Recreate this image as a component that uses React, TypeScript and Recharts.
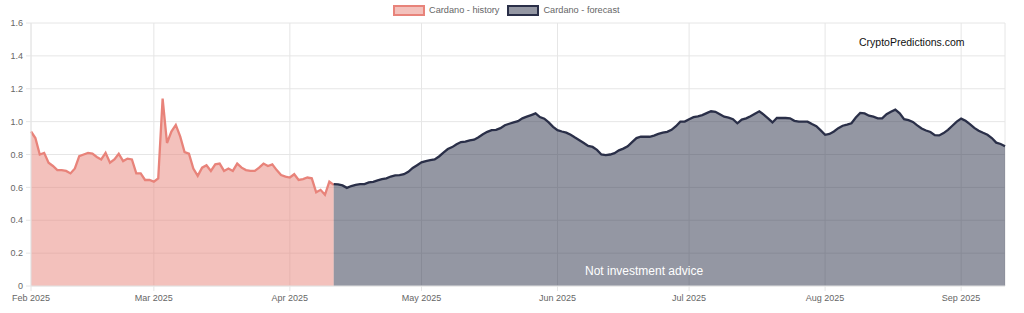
import { ComposedChart, Area, XAxis, YAxis, CartesianGrid } from 'recharts'

// days counted from 1 Feb 2025
const monthTicks = [0, 28, 59, 89, 120, 150, 181, 212]
const monthLabels = ['Feb 2025', 'Mar 2025', 'Apr 2025', 'May 2025', 'Jun 2025', 'Jul 2025', 'Aug 2025', 'Sep 2025']
const yTicks = [0, 0.2, 0.4, 0.6, 0.8, 1.0, 1.2, 1.4, 1.6]

// Cardano history, daily from 1 Feb to 11 Apr
const historyValues = [
  0.94, 0.9, 0.8, 0.81, 0.75, 0.73, 0.705, 0.705, 0.7, 0.685, 0.715, 0.79, 0.8, 0.81,
  0.805, 0.785, 0.77, 0.81, 0.75, 0.77, 0.805, 0.76, 0.775, 0.77, 0.685, 0.685, 0.645, 0.645,
  0.635, 0.655, 1.14, 0.87, 0.94, 0.98, 0.91, 0.815, 0.805, 0.715, 0.67, 0.72, 0.735, 0.7,
  0.74, 0.745, 0.7, 0.715, 0.7, 0.745, 0.72, 0.705, 0.7, 0.7, 0.72, 0.745, 0.73, 0.74,
  0.705, 0.675, 0.665,
  0.66, 0.68, 0.645, 0.65, 0.66, 0.655, 0.57, 0.585, 0.555, 0.635, 0.615,
]

// forecast, daily from 11 Apr to 11 Sep
const forecastStart = 69
const forecastValues = [
  0.62, 0.618, 0.612, 0.597, 0.608, 0.615, 0.62, 0.62, 0.63, 0.634, 0.643, 0.65, 0.655, 0.666,
  0.673, 0.675, 0.68, 0.695, 0.718, 0.735, 0.752, 0.76, 0.766, 0.77, 0.788, 0.812, 0.833, 0.845,
  0.862, 0.876, 0.878, 0.886, 0.89, 0.905, 0.923, 0.938, 0.948, 0.95, 0.96, 0.978, 0.987, 0.995,
  1.003, 1.02, 1.03, 1.04, 1.05, 1.028, 1.018, 0.995, 0.968, 0.948, 0.94, 0.933, 0.92, 0.903,
  0.887, 0.87, 0.852, 0.846, 0.828, 0.8, 0.796, 0.8, 0.808, 0.825, 0.836, 0.85, 0.875, 0.9,
  0.908, 0.908, 0.908, 0.915, 0.925, 0.933, 0.938, 0.95, 0.972, 1.0, 1.0, 1.015, 1.027, 1.032,
  1.04, 1.052, 1.063, 1.06, 1.045, 1.03, 1.024, 1.015, 0.99, 1.012, 1.02, 1.033, 1.048, 1.063,
  1.043, 1.02, 0.995, 1.022, 1.022, 1.022, 1.02, 1.005, 1.0, 1.0, 1.0, 0.985, 0.972, 0.947,
  0.92, 0.925, 0.94, 0.96, 0.975, 0.982, 0.99, 1.025, 1.053, 1.05, 1.036, 1.03, 1.02, 1.02,
  1.045, 1.06, 1.073, 1.05, 1.015, 1.009, 0.998, 0.977, 0.958, 0.946, 0.937, 0.918, 0.916, 0.93,
  0.95, 0.975, 1.0, 1.018, 1.005, 0.985, 0.962, 0.945, 0.932, 0.92, 0.9, 0.872, 0.864, 0.85,
]

const lastDay = forecastStart + forecastValues.length - 1

const rows = Array.from({ length: lastDay + 1 }, (_, day) => ({
  day,
  history: day < historyValues.length ? historyValues[day] : undefined,
  forecast: day >= forecastStart ? forecastValues[day - forecastStart] : undefined,
}))

const HIST = '#e8837a'
const FORE = '#2a2f48'
const GRID = '#e6e6e6'
const FONT = '"Liberation Sans", Arial, Helvetica, sans-serif'

function LegendItem({ color, label }: { color: string; label: string }) {
  return (
    <div style={{ display: 'flex', alignItems: 'center', marginRight: 8 }}>
      <div
        style={{
          width: 32,
          height: 11,
          boxSizing: 'border-box',
          border: `2px solid ${color}`,
          background: color + '80',
          marginRight: 4,
        }}
      />
      <span style={{ fontSize: 9.2, color: '#666' }}>{label}</span>
    </div>
  )
}

export default function App() {
  return (
    <div style={{ position: 'absolute', left: 0, top: 0, width: 1024, height: 313, fontFamily: FONT, background: '#fff' }}>
      <ComposedChart width={1024} height={313} data={rows} margin={{ top: 23, right: 19, left: 0, bottom: 0 }}>
        <CartesianGrid stroke={GRID} />
        <XAxis
          dataKey="day"
          type="number"
          domain={[0, lastDay]}
          ticks={monthTicks}
          tickFormatter={(v: number) => monthLabels[monthTicks.indexOf(v)]}
          height={27}
          axisLine={{ stroke: GRID }}
          tickLine={{ stroke: GRID }}
          tickSize={5}
          tickMargin={4}
          tick={{ fill: '#666', fontSize: 9, fontFamily: FONT }}
          interval={0}
        />
        <YAxis
          type="number"
          domain={[0, 1.6]}
          ticks={yTicks}
          tickFormatter={(v: number) => (v === 0 ? '0' : v.toFixed(1))}
          width={31}
          axisLine={{ stroke: GRID }}
          tickLine={{ stroke: GRID }}
          tickSize={5}
          tickMargin={3}
          tick={{ fill: '#666', fontSize: 9, fontFamily: FONT }}
          interval={0}
        />
        <Area
          type="linear"
          dataKey="history"
          stroke={HIST}
          strokeWidth={2.3}
          fill={HIST}
          fillOpacity={0.5}
          dot={false}
          activeDot={false}
          isAnimationActive={false}
        />
        <Area
          type="linear"
          dataKey="forecast"
          stroke={FORE}
          strokeWidth={2.3}
          fill={FORE}
          fillOpacity={0.5}
          dot={false}
          activeDot={false}
          isAnimationActive={false}
        />
      </ComposedChart>

      {/* legend */}
      <div style={{ position: 'absolute', left: 393, top: 5, display: 'flex', height: 11, lineHeight: '11px' }}>
        <LegendItem color={HIST} label="Cardano - history" />
        <LegendItem color={FORE} label="Cardano - forecast" />
      </div>

      {/* watermarks */}
      <div style={{ position: 'absolute', left: 859, top: 36, fontSize: 10.5, lineHeight: '12px', color: '#111' }}>
        CryptoPredictions.com
      </div>
      <div style={{ position: 'absolute', left: 585, top: 264, fontSize: 12, lineHeight: '14px', color: '#fff' }}>
        Not investment advice
      </div>
    </div>
  )
}
